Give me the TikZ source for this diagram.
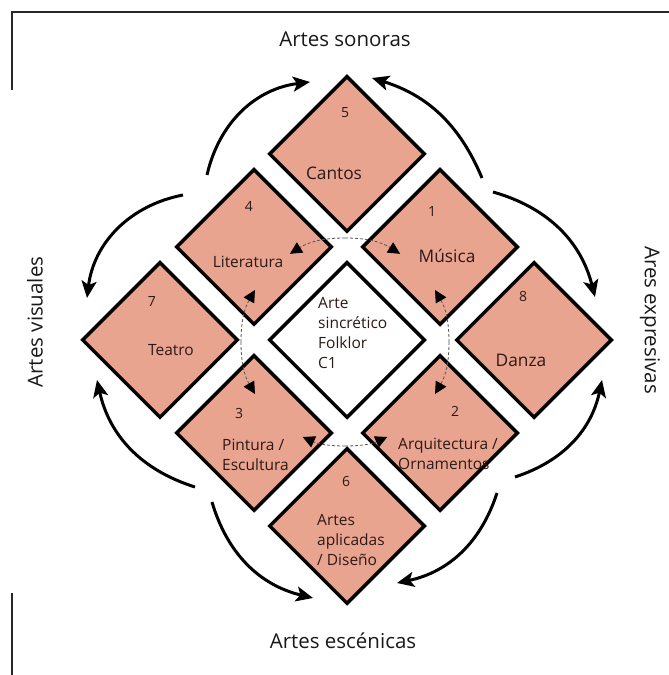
\documentclass[tikz,border=0pt]{standalone}
\usepackage{fontspec}
\setmainfont{Open Sans}
\usetikzlibrary{shapes.geometric,arrows.meta,calc}
\definecolor{salmon}{RGB}{232,164,143}
\definecolor{txtc}{RGB}{45,25,24}
\definecolor{ttlc}{RGB}{25,25,25}
\definecolor{dashgray}{RGB}{85,85,85}
\definecolor{framec}{RGB}{40,40,40}
\begin{document}
\begin{tikzpicture}[x=1pt,y=1pt,
  dia/.style={diamond, draw=black, line width=3.5pt, minimum width=156pt, minimum height=156pt, inner sep=0pt, fill=salmon},
  whitedia/.style={dia, fill=white},
  num/.style={font=\fontsize{14}{16}\selectfont, text=txtc, inner sep=0pt},
  lbl/.style={font=\fontsize{15.5}{19.7}\selectfont, text=txtc, inner sep=0pt},
  biglbl/.style={font=\fontsize{17.3}{20}\selectfont, text=txtc, inner sep=0pt},
  ttl/.style={font=\fontsize{20.5}{24}\selectfont, text=ttlc, inner sep=0pt},
  bigarrow/.style={line width=3pt, draw=black, -{Stealth[length=17pt,width=15pt,inset=4pt]}},
  inarrow/.style={line width=0.8pt, draw=dashgray, dash pattern=on 3pt off 2pt, -{Triangle[length=12pt,width=12pt,black]}},
  framel/.style={line width=1.5pt, draw=framec}
]
\useasboundingbox (0,0) rectangle (669,675);

% frame lines
\coordinate (f1) at (12,585);
\coordinate (f2) at (12,663);
\coordinate (f3) at (669,663);
\coordinate (f4) at (12,82);
\coordinate (f5) at (12,0);
\draw[framel] (f1) -- (f2) -- (f3);
\draw[framel] (f4) -- (f5);

% diamonds
\node[whitedia] (dc) at (347,335) {};
\node[dia] (d4) at (254,428) {};
\node[dia] (d1) at (440,428) {};
\node[dia] (d3) at (254,242) {};
\node[dia] (d2) at (440,242) {};
\node[dia] (d5) at (347,521) {};
\node[dia] (d6) at (347,149) {};
\node[dia] (d7) at (160,335) {};
\node[dia] (d8) at (534,335) {};

% numbers
\node[num] (n5) at (345,562) {5};
\node[num] (n4) at (249,469) {4};
\node[num] (n1) at (432,463) {1};
\node[num] (n7) at (152,373) {7};
\node[num] (n8) at (523,378) {8};
\node[num] (n3) at (239,261) {3};
\node[num] (n2) at (455,264) {2};
\node[num] (n6) at (346,193) {6};

% labels
\node[biglbl] (l5) at (334,502) {Cantos};
\node[lbl] (l4) at (248,413) {Literatura};
\node[biglbl] (l1) at (447,419) {Música};
\node[lbl] (l7) at (171,325) {Teatro};
\node[biglbl] (l8) at (521,315) {Danza};
\node[lbl, align=left, anchor=west] (l3) at (222,220) {Pintura /\\Escultura};
\node[lbl, align=left, anchor=west] (l2) at (398,221) {Arquitectura /\\Ornamentos};
\node[lbl, align=left, anchor=west] (l6) at (317,135) {Artes\\aplicadas\\/ Diseño};
\node[lbl, align=left, anchor=west] (lc) at (318,342) {Arte\\sincrético\\Folklor\\C1};

% titles
\node[ttl] (tn) at (345,636) {Artes sonoras};
\node[ttl] (ts) at (343,34) {Artes escénicas};
\node[ttl, rotate=90] (tw) at (35,353) {Artes visuales};
\node[ttl, rotate=-90] (te) at (650,355) {Ares expresivas};

% outer arrows
\coordinate (a1s) at (207,500); \coordinate (a1e) at (310,593);
\coordinate (a2s) at (482,497); \coordinate (a2e) at (372,597);
\coordinate (a3s) at (183,480); \coordinate (a3e) at (87,377);
\coordinate (a4s) at (493,483); \coordinate (a4e) at (595,378);
\coordinate (a5s) at (195,188); \coordinate (a5e) at (97,295);
\coordinate (a6s) at (212,173); \coordinate (a6e) at (313,77);
\coordinate (a7s) at (515,198); \coordinate (a7e) at (602,295);
\coordinate (a8s) at (497,182); \coordinate (a8e) at (397,92);
\draw[bigarrow] (a1s) to[bend left=35] (a1e);
\draw[bigarrow] (a2s) to[bend right=25] (a2e);
\draw[bigarrow] (a3s) to[bend right=36] (a3e);
\draw[bigarrow] (a4s) to[bend left=30] (a4e);
\draw[bigarrow] (a5s) to[bend left=30] (a5e);
\draw[bigarrow] (a6s) to[bend right=30] (a6e);
\draw[bigarrow] (a7s) to[bend right=30] (a7e);
\draw[bigarrow] (a8s) to[bend left=30] (a8e);

% inner dashed arrows
\coordinate (cc) at (345,333);
\coordinate (gt) at ($(cc)+(90:104)$);
\coordinate (gl) at ($(cc)+(180:104)$);
\coordinate (gr) at ($(cc)+(0:104)$);
\coordinate (gb) at ($(cc)+(270:104)$);
\coordinate (it1) at ($(cc)+(122:104)$);
\coordinate (it2) at ($(cc)+(58:104)$);
\coordinate (il1) at ($(cc)+(150:104)$);
\coordinate (il2) at ($(cc)+(210:104)$);
\coordinate (ir1) at ($(cc)+(30:104)$);
\coordinate (ir2) at ($(cc)+(-30:104)$);
\coordinate (ib1) at ($(cc)+(246:104)$);
\coordinate (ib2) at ($(cc)+(294:104)$);
\draw[inarrow] (gt) to[bend right=16] (it1);
\draw[inarrow] (gt) to[bend left=16] (it2);
\draw[inarrow] (gl) to[bend left=15] (il1);
\draw[inarrow] (gl) to[bend right=15] (il2);
\draw[inarrow] (gr) to[bend right=15] (ir1);
\draw[inarrow] (gr) to[bend left=15] (ir2);
\draw[inarrow] (gb) to[bend left=12] (ib1);
\draw[inarrow] (gb) to[bend right=12] (ib2);
\end{tikzpicture}
\end{document}
